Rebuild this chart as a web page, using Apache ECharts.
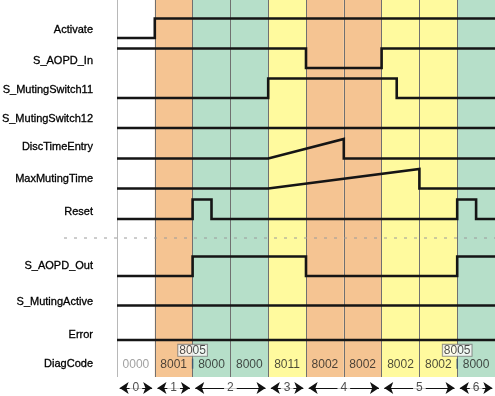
<!DOCTYPE html>
<html>
<head>
<meta charset="utf-8">
<script src="https://cdn.jsdelivr.net/npm/echarts@6/dist/echarts.min.js"></script>
<style>
  html, body { margin: 0; padding: 0; background: #fff; }
  #chart { width: 495px; height: 396px; }
</style>
</head>
<body>
<div id="chart"></div>
<script>
// signal names, top to bottom
const signalNames = ["Activate", "S_AOPD_In", "S_MutingSwitch11", "S_MutingSwitch12", "DiscTimeEntry",
  "MaxMutingTime", "Reset", "S_AOPD_Out", "S_MutingActive", "Error"];

// waveforms: [time in cycle columns, level 0..1]
const activate = [[0, 0], [1, 0], [1, 1], [10, 1]];
const aopdIn = [[0, 1], [5, 1], [5, 0], [7, 0], [7, 1], [10, 1]];
const mutingSwitch11 = [[0, 0], [4, 0], [4, 1], [7.4, 1], [7.4, 0], [10, 0]];
const mutingSwitch12 = [[0, 0], [10, 0]];
const discTimeEntry = [[0, 0], [4, 0], [6, 1], [6, 0], [10, 0]];
const maxMutingTime = [[0, 0], [4, 0], [8, 1], [8, 0], [10, 0]];
const reset = [[0, 0], [2, 0], [2, 1], [2.5, 1], [2.5, 0], [9, 0], [9, 1], [9.5, 1], [9.5, 0], [10, 0]];
const aopdOut = [[0, 0], [2, 0], [2, 1], [5, 1], [5, 0], [9, 0], [9, 1], [10, 1]];
const mutingActive = [[0, 0], [10, 0]];
const error = [[0, 0], [10, 0]];
const waves = [activate, aopdIn, mutingSwitch11, mutingSwitch12, discTimeEntry,
  maxMutingTime, reset, aopdOut, mutingActive, error];

// DiagCode per column, and the boxed codes at column boundaries
const diagCodes = ["0000", "8001", "8000", "8000", "8011", "8002", "8002", "8002", "8002", "8000"];
const diagMarkAt = [2, 9];
const diagMarkCode = ["8005", "8005"];

// column state: 0 idle, 1 orange, 2 green, 3 yellow
const columnState = [0, 1, 2, 2, 3, 1, 1, 3, 3, 2];
const stateColors = ["#ffffff", "#f5c492", "#b6dfc9", "#fffa9e"];

// phases along the bottom: start, end, label
const phaseStart = [0, 1, 2, 4, 5, 7, 9];
const phaseEnd = [1, 2, 4, 5, 7, 9, 10];
const phaseLabels = ["0", "1", "2", "3", "4", "5", "6"];

// layout (pixels)
const rowLow = [38, 68, 98, 128, 158.5, 188.5, 219, 276, 305.5, 340];
const rowAmp = 19.5;
const labelY = [30, 61, 90, 119, 147, 179, 212, 266, 302, 335];
const plotLeft = 117;
const plotBottom = 377;
const FONT = '"Liberation Sans", Arial, sans-serif';

const chart = echarts.init(document.getElementById("chart"));

const grids = [], xAxes = [], yAxes = [], series = [];

function addGrid(top, height, yMin, yMax) {
  const idx = grids.length;
  grids.push({ left: plotLeft, right: 0, top: top, height: height });
  xAxes.push({ gridIndex: idx, type: "value", min: 0, max: 10, show: false });
  yAxes.push({ gridIndex: idx, type: "value", min: yMin, max: yMax, show: false });
  return idx;
}

// background columns and their boundary lines
const bg = addGrid(0, plotBottom, 0, 1);
series.push({
  type: "line", xAxisIndex: bg, yAxisIndex: bg, data: [], silent: true,
  markArea: {
    silent: true,
    data: columnState.map((s, i) => [
      { xAxis: i, itemStyle: { color: stateColors[s] } },
      { xAxis: i + 1 }
    ])
  },
  markLine: {
    silent: true, symbol: "none", label: { show: false },
    data: columnState.map((s, i) => ({
      xAxis: i,
      lineStyle: { color: i === 0 ? "#b8b8b8" : "#707070", width: 1, type: "solid" }
    }))
  }
});

// signal rows
waves.forEach((w, i) => {
  const g = addGrid(rowLow[i] - rowAmp, rowAmp, 0, 1);
  series.push({
    type: "line", xAxisIndex: g, yAxisIndex: g, data: w,
    showSymbol: false, clip: false, silent: true, z: 5,
    lineStyle: { color: "#151515", width: 2.6, join: "miter" }
  });
});

// DiagCode row
const dg = addGrid(rowLow[9], plotBottom - rowLow[9], 0, 1);
series.push({
  type: "scatter", xAxisIndex: dg, yAxisIndex: dg, silent: true, z: 5,
  symbolSize: 1, itemStyle: { color: "transparent" },
  data: diagCodes.map((c, i) => ({
    value: [i + 0.5, 0.34, c],
    label: { color: i === 0 ? "#8a8a8a" : "#1e1e1e" }
  })),
  label: { show: true, position: "inside", formatter: (p) => p.value[2], fontFamily: FONT, fontSize: 12 }
});
series.push({
  type: "scatter", xAxisIndex: dg, yAxisIndex: dg, silent: true, z: 6,
  symbol: "rect", symbolSize: [1.5, 10], itemStyle: { color: "#34506e" },
  data: diagMarkAt.map((x) => [x, 0.36])
});
series.push({
  type: "scatter", xAxisIndex: dg, yAxisIndex: dg, silent: true, z: 7,
  symbolSize: 1, itemStyle: { color: "transparent" },
  data: diagMarkAt.map((x, i) => [x, 0.72, diagMarkCode[i]]),
  label: {
    show: true, position: "inside", formatter: (p) => p.value[2],
    fontFamily: FONT, fontSize: 12, color: "#1e1e1e", backgroundColor: "#fff",
    borderColor: "#7a7a7a", borderWidth: 1, padding: [0, 1, -1, 1], lineHeight: 12
  }
});

// phase arrows
const pg = addGrid(383, 10, 0, 1);
series.push({
  type: "line", xAxisIndex: pg, yAxisIndex: pg, data: [[0, 0.5]], silent: true,
  color: "#111", showSymbol: false, lineStyle: { opacity: 0 },
  markLine: {
    silent: true, symbol: ["arrow", "arrow"], symbolSize: 9,
    itemStyle: { color: "#111" },
    lineStyle: { color: "#111", width: 1, type: "solid", opacity: 1 },
    label: { show: false },
    data: phaseLabels.map((lab, i) => [
      { coord: [phaseStart[i] + 0.07, 0.5] },
      { coord: [phaseEnd[i] - 0.07, 0.5] }
    ])
  }
});
series.push({
  type: "scatter", xAxisIndex: pg, yAxisIndex: pg, silent: true, z: 8,
  symbolSize: 1, itemStyle: { color: "transparent" },
  data: phaseLabels.map((lab, i) => [(phaseStart[i] + phaseEnd[i]) / 2, 0.5, lab]),
  label: {
    show: true, position: "inside", formatter: (p) => p.value[2],
    fontFamily: FONT, fontSize: 12, color: "#222", backgroundColor: "#fff", padding: [0, 3]
  }
});

// row labels and separator
const labelStyle = { font: "11px " + FONT, fill: "#000", stroke: "#000", lineWidth: 0.3, align: "right", verticalAlign: "middle" };
const graphics = signalNames.map((n, i) => ({
  type: "text", x: 93, y: labelY[i], z: 10,
  style: Object.assign({ text: n }, labelStyle)
}));
graphics.push({
  type: "text", x: 93, y: 364, z: 10,
  style: Object.assign({ text: "DiagCode" }, labelStyle)
});
graphics.push({
  type: "line", z: 10, shape: { x1: 64, y1: 238, x2: 495, y2: 238 },
  style: { stroke: "#9a9a9a", lineWidth: 1, lineDash: [3, 7] }
});

chart.setOption({
  animation: false,
  grid: grids,
  xAxis: xAxes,
  yAxis: yAxes,
  series: series,
  graphic: graphics
});
</script>
</body>
</html>
